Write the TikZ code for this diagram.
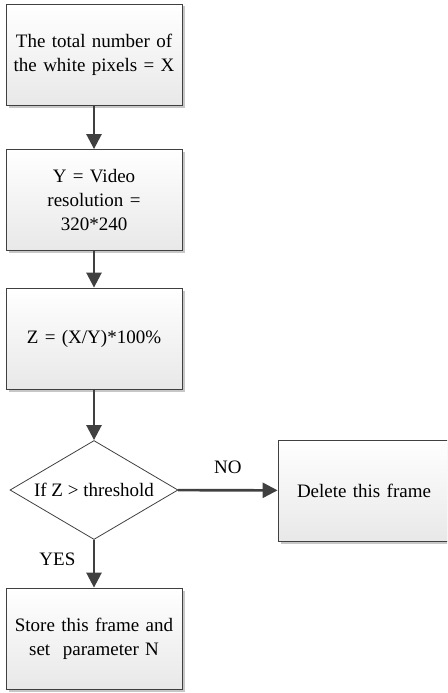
\documentclass[tikz,border=0pt]{standalone}
\usepackage{fontspec}
\setmainfont{Liberation Serif}
\usetikzlibrary{arrows.meta,shapes.geometric,shadows}

\tikzset{
    stepbox/.style={draw=black!75, line width=0.8pt, rectangle,
        minimum width=168pt, minimum height=101pt, inner sep=0pt,
        text width=176pt, align=center,
        top color=white, bottom color=black!9,
        drop shadow={shadow xshift=2.5pt, shadow yshift=-2.5pt, fill=black!22, opacity=1}},
    testbox/.style={draw=black!75, line width=0.8pt, diamond, aspect=1.7,
        minimum width=168pt, minimum height=99pt, inner sep=0pt,
        fill=white},
    flow/.style={draw=black!75, line width=2.6pt,
        -{Triangle[width=15pt,length=15pt]}},
}

\begin{document}
\begin{tikzpicture}[x=1pt, y=-1pt, font=\fontsize{19}{24}\selectfont]

    % Page size
    \useasboundingbox (0,0) rectangle (447,693);
    \clip (0,0) rectangle (447,693);

    % Main column
    \node[stepbox] (count) at (94,54.5) {The total number of\\the white pixels = X};
    \node[stepbox] (resol) at (94,200) {Y = Video\\resolution =\\320*240};
    \node[stepbox] (ratio) at (94,338.5) {Z = (X/Y)*100\%};
    \node[testbox] (test)  at (94,490) {If Z > threshold};
    \node[stepbox] (store) at (94,638.5) {Store this frame and\\set\ \ parameter N};

    % Side branch
    \node[stepbox, minimum width=174pt] (delete) at (366,490.5) {\hspace*{-4pt}Delete this frame};

    % Connectors
    \draw[flow] (count) -- (resol);
    \draw[flow] (resol) -- (ratio);
    \draw[flow] (ratio) -- (test);
    \draw[flow] (test) -- (store) node[pos=0.4, left=14pt] (yes) {YES};
    \draw[flow] (test) -- (delete) node[midway, above=12pt] (no) {NO};
\end{tikzpicture}
\end{document}
